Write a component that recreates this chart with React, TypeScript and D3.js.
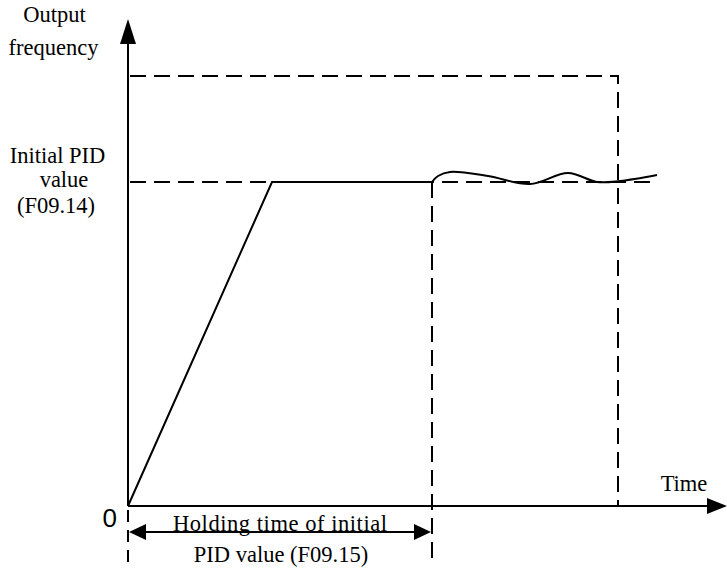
import React from "react";
import * as d3 from "d3";

// time units / frequency units
const rampPoints: [number, number][] = [[0, 0], [144, 324], [304, 324]];
const wavePoints: [number, number][] = [[304, 324], [310, 330], [322, 334], [360, 330], [402, 322], [440, 333], [469, 324], [492, 325], [529, 331]];
const pidLevel = 324;
const maxLevel = 430;
const holdEnd = 304;
const maxEnd = 490;
const pidLineEnd = 529;
const xAxisEnd = 599;
const yAxisEnd = 487;
const yLabels = ["Output", "frequency"];
const pidLabels = ["Initial PID", "value", "(F09.14)"];
const holdLabels = ["Holding time of initial", "PID value (F09.15)"];

const W = 727, H = 568;
const x = d3.scaleLinear().domain([0, 600]).range([128, 728]);
const y = d3.scaleLinear().domain([0, 430]).range([506, 76]);

export default function App() {
  const line = d3.line<[number, number]>().x(d => x(d[0])).y(d => y(d[1]));
  const wave = d3.line<[number, number]>().x(d => x(d[0])).y(d => y(d[1])).curve(d3.curveCatmullRom.alpha(0.5));
  const font = "Liberation Serif";
  const dash = "16,8";
  const x0 = x(0), y0 = y(0);
  const ax = x(xAxisEnd), ay = y(yAxisEnd);
  const arrowY = 532;
  const ts: React.CSSProperties = { fontFamily: font, fontSize: "22.5px" };
  return (
    <svg width={W} height={H} style={{ position: "absolute", left: 0, top: 0, background: "#fff" }}>
      <rect width={W} height={H} fill="#fff" />
      {/* axes */}
      <line x1={x0} y1={y0} x2={x0} y2={ay + 20} stroke="#000" strokeWidth={2} />
      <path d={`M${x0},${ay} L${x0 - 8},${ay + 25} L${x0 + 8},${ay + 25} Z`} fill="#000" />
      <line x1={x0} y1={y0} x2={ax - 18} y2={y0} stroke="#000" strokeWidth={2} />
      <path d={`M${ax},${y0} L${ax - 20},${y0 - 8} L${ax - 20},${y0 + 8} Z`} fill="#000" />
      {/* dashed guides */}
      <path d={`M${x0 + 2},${y(maxLevel)} H${x(maxEnd)} V${y0}`} fill="none" stroke="#000" strokeWidth={2} strokeDasharray={dash} />
      <line x1={x0 + 2} y1={y(pidLevel)} x2={x(pidLineEnd)} y2={y(pidLevel)} stroke="#000" strokeWidth={2} strokeDasharray={dash} />
      <line x1={x(holdEnd)} y1={y(pidLevel)} x2={x(holdEnd)} y2={563} stroke="#000" strokeWidth={2} strokeDasharray={dash} />
      <line x1={x0} y1={y0 + 4} x2={x0} y2={563} stroke="#000" strokeWidth={2} strokeDasharray="12,8" />
      {/* curves */}
      <path d={line(rampPoints) || ""} fill="none" stroke="#000" strokeWidth={2} />
      <path d={wave(wavePoints) || ""} fill="none" stroke="#000" strokeWidth={2} />
      {/* double arrow */}
      <line x1={x0 + 10} y1={arrowY} x2={x(holdEnd) - 10} y2={arrowY} stroke="#000" strokeWidth={2} />
      <path d={`M${x0 + 1},${arrowY} L${x0 + 18},${arrowY - 8} L${x0 + 18},${arrowY + 8} Z`} fill="#000" />
      <path d={`M${x(holdEnd) - 1},${arrowY} L${x(holdEnd) - 18},${arrowY - 8} L${x(holdEnd) - 18},${arrowY + 8} Z`} fill="#000" />
      {/* texts */}
      <g fill="#000" textAnchor="middle" style={ts}>
        <text x={54.5} y={22}>{yLabels[0]}</text>
        <text x={53.5} y={55}>{yLabels[1]}</text>
        <text x={57.5} y={163}>{pidLabels[0]}</text>
        <text x={64} y={187}>{pidLabels[1]}</text>
        <text x={56} y={213}>{pidLabels[2]}</text>
        <text x={280} y={531} textLength={214} lengthAdjust="spacing">{holdLabels[0]}</text>
        <text x={281} y={562}>{holdLabels[1]}</text>
        <text x={684} y={491}>Time</text>
      </g>
      <text x={117} y={527} style={{ fontFamily: "Liberation Sans", fontSize: "26px" }} textAnchor="end" fill="#000">0</text>
    </svg>
  );
}
